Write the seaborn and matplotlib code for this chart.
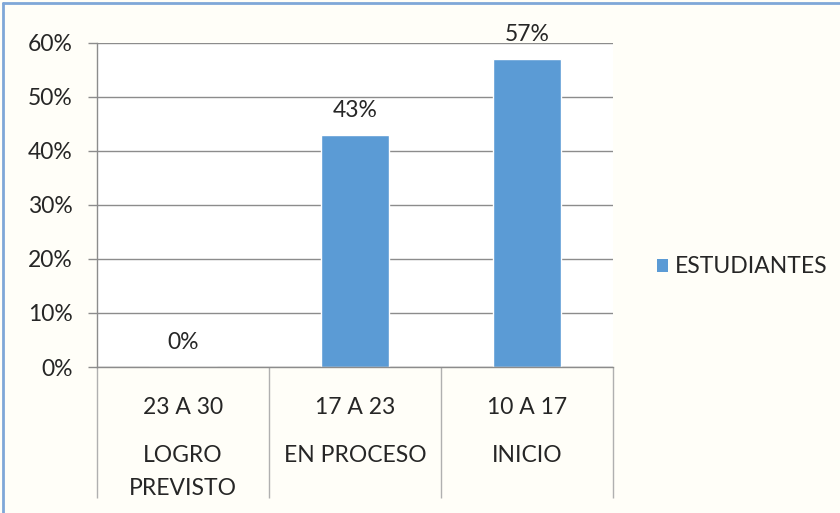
import seaborn as sns
import matplotlib.pyplot as plt
from matplotlib.lines import Line2D
from matplotlib.patches import Patch
from matplotlib.ticker import PercentFormatter

# data
ranges = ["23 A 30", "17 A 23", "10 A 17"]
levels = ["LOGRO\nPREVISTO", "EN PROCESO", "INICIO"]
students = [0, 43, 57]
series_name = "ESTUDIANTES"
y_ticks = [0, 10, 20, 30, 40, 50, 60]

bar_color = "#5B9BD5"
grid_color = "#8c8c8c"
text_color = "#262626"
fs = 16.5

sns.set_theme(style="white")
plt.rcParams["font.family"] = ["Lato", "DejaVu Sans"]

fig = plt.figure(figsize=(8.4, 5.13), dpi=100)
fig.patch.set_facecolor("#fffef8")
ax = fig.add_axes([0.1155, 0.2846, 0.6143, 0.6316])
ax.set_facecolor("white")

sns.barplot(x=list(range(len(ranges))), y=students, color=bar_color,
            width=0.4, saturation=1, ax=ax, native_scale=True)

ax.set_xlim(-0.5, len(ranges) - 0.5)
ax.set_ylim(0, 60)
ax.set_yticks(y_ticks)
ax.yaxis.set_major_formatter(PercentFormatter(decimals=0))
ax.grid(axis="y", color=grid_color, linewidth=1)
ax.set_axisbelow(True)
for s in ["top", "right"]:
    ax.spines[s].set_visible(False)
for s in ["left", "bottom"]:
    ax.spines[s].set_color(grid_color)
    ax.spines[s].set_linewidth(1)

ax.tick_params(axis="y", which="major", length=6.5, color=grid_color,
               width=1, left=True, pad=11, labelsize=fs, labelcolor=text_color)

# category boundaries as long minor ticks
ax.set_xticks([i - 0.5 for i in range(len(ranges) + 1)], minor=True)
ax.set_xticks(range(len(ranges)))
ax.set_xticklabels([""] * len(ranges))
ax.tick_params(axis="x", which="major", length=0)
ax.tick_params(axis="x", which="minor", length=94, color="#b0b0b0",
               width=1, bottom=True)
ax.set_xlabel("")
ax.set_ylabel("")

trans = ax.get_xaxis_transform()
for i, (r, lv) in enumerate(zip(ranges, levels)):
    ax.text(i, -0.124, r, transform=trans, ha="center", va="center",
            fontsize=fs, color=text_color)
    for j, line in enumerate(lv.split("\n")):
        ax.text(i, -0.272 - j * 0.102, line, transform=trans, ha="center",
                va="center", fontsize=fs, color=text_color)

for container in ax.containers:
    ax.bar_label(container, labels=[f"{v}%" for v in students],
                 padding=10, fontsize=fs, color=text_color)

handles = [Patch(facecolor=bar_color, edgecolor="none")]
fig.legend(handles, [series_name], loc="center left",
           bbox_to_anchor=(0.757, 0.48), frameon=False, fontsize=fs,
           handlelength=0.5, handleheight=0.5, handletextpad=0.3,
           labelcolor=text_color)

# selection border top/left
fig.add_artist(Line2D([0.003, 0.003], [0, 0.995], transform=fig.transFigure,
                      color="#7fa7d8", linewidth=2))
fig.add_artist(Line2D([0.003, 1], [0.995, 0.995], transform=fig.transFigure,
                      color="#7fa7d8", linewidth=2))

fig.savefig("out.png", dpi=100, facecolor=fig.get_facecolor())
